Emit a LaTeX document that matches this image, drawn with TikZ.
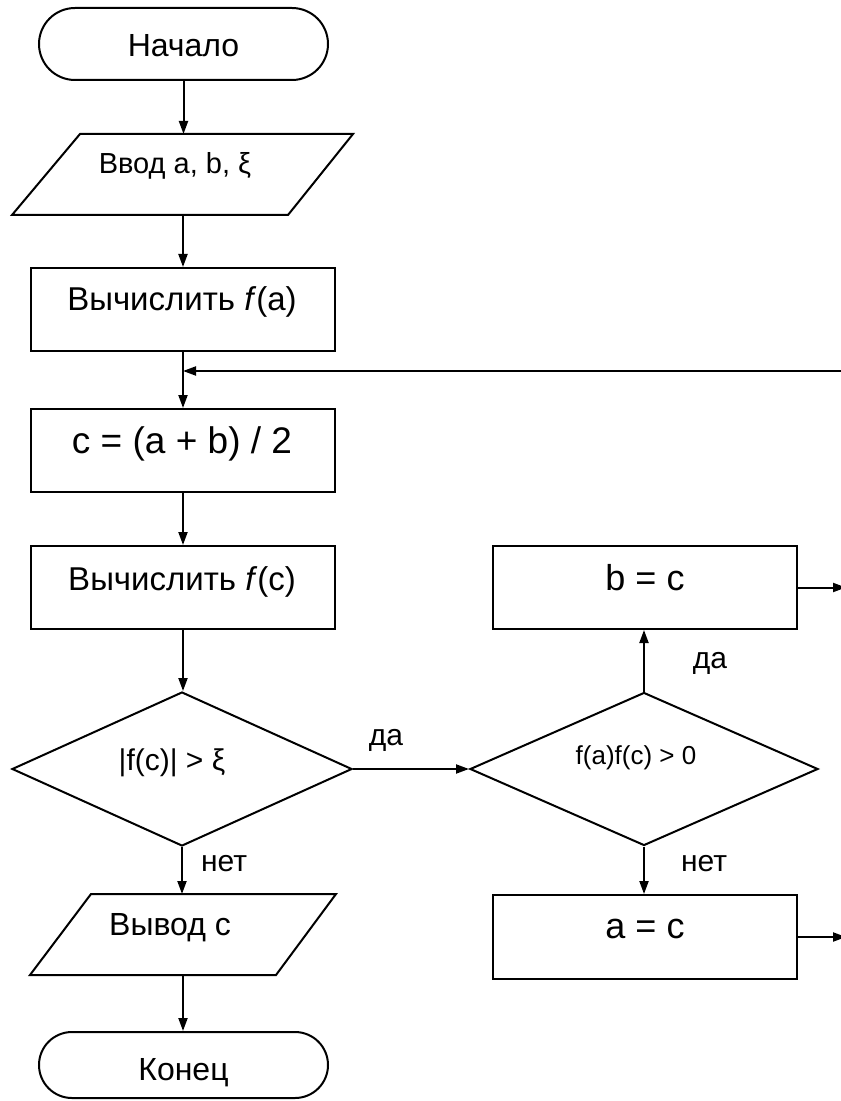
\documentclass[tikz,border=0pt]{standalone}
\usepackage{fontspec}
\setmainfont{Liberation Sans}
\usetikzlibrary{arrows.meta,shapes.geometric,calc}
\begin{document}
\begin{tikzpicture}[x=0.5pt,y=-0.5pt,
  line width=1pt,
  arr/.style={-{Triangle[length=6.5pt,width=4.5pt]}},
  procbox/.style={draw, rectangle, minimum width=152pt, minimum height=41.5pt, inner sep=0},
  termbox/.style={draw, rectangle, rounded corners=18pt, minimum width=144.5pt, minimum height=36pt, inner sep=0},
  decbox/.style={draw, diamond, inner sep=0, minimum width=170pt, minimum height=77pt},
  iobox/.style={rectangle, inner sep=0},
  txt/.style={anchor=base, inner sep=0},
]
\useasboundingbox (0,0) rectangle (840,1101);

% shapes
\node[termbox] (start) at (183.5,44) {};
\node[iobox, minimum width=169.5pt, minimum height=39.5pt] (in) at (182.5,174.5) {};
\draw (in.south west) -- ($(in.north west)+(68,0)$) -- (in.north east) -- ($(in.south east)+(-65,0)$) -- cycle;
\node[procbox] (fa) at (183,309.5) {};
\node[procbox] (cbox) at (183,450.5) {};
\node[procbox] (fc) at (183,587.5) {};
\node[decbox] (d1) at (182,769) {};
\node[decbox, minimum width=174pt, minimum height=76.5pt] (d2) at (644,769) {};
\node[procbox] (bc) at (645,587.5) {};
\node[procbox, minimum height=42pt] (ac) at (644.5,937) {};
\node[iobox, minimum width=152pt, minimum height=39.5pt] (out) at (183,934.5) {};
\draw (out.south west) -- ($(out.north west)+(61,0)$) -- (out.north east) -- ($(out.south east)+(-60,0)$) -- cycle;
\node[termbox, rounded corners=16.5pt, minimum height=33pt] (end) at (183.5,1065) {};

% texts
\node[txt, font=\fontsize{16pt}{18pt}\selectfont] (t1) at (183.5,57) {Начало};
\node[txt, font=\fontsize{14.5pt}{16pt}\selectfont] (t2) at (175,174) {Ввод a, b, ξ};
\node[txt, font=\fontsize{16.5pt}{18pt}\selectfont] (t3) at (182,311) {Вычислить \textit{f}(a)};
\node[txt, font=\fontsize{18.5pt}{20pt}\selectfont] (t4) at (182,453) {c = (a + b) / 2};
\node[txt, font=\fontsize{16.5pt}{18pt}\selectfont] (t5) at (182,590) {Вычислить \textit{f}(c)};
\node[txt, font=\fontsize{15pt}{17pt}\selectfont] (t6) at (172,770) {|f(c)| > ξ};
\node[txt, font=\fontsize{13pt}{15pt}\selectfont] (t7) at (636,764) {f(a)f(c) > 0};
\node[txt, font=\fontsize{18pt}{20pt}\selectfont] (t8) at (645,590) {b = c};
\node[txt, font=\fontsize{18pt}{20pt}\selectfont] (t9) at (645,938) {a = c};
\node[txt, font=\fontsize{16pt}{18pt}\selectfont] (t10) at (170,935) {Вывод с};
\node[txt, font=\fontsize{16pt}{18pt}\selectfont] (t11) at (183.5,1080) {Конец};
\node[txt, font=\fontsize{15pt}{17pt}\selectfont] (l1) at (386,745) {да};
\node[txt, font=\fontsize{15pt}{17pt}\selectfont] (l2) at (710,668) {да};
\node[txt, font=\fontsize{15pt}{17pt}\selectfont] (l3) at (224,871) {нет};
\node[txt, font=\fontsize{15pt}{17pt}\selectfont] (l4) at (704,871) {нет};

% connectors
\coordinate (join) at (183,371);
\coordinate (loopR) at (850,371);
\coordinate (bcR) at (846,587.5);
\coordinate (acR) at (846,937);

\draw[arr] (start.south) -- (start.south |- in.north);
\draw[arr] (fa.north |- in.south) -- (fa.north);
\draw[arr] (fa.south) -- (cbox.north);
\draw[arr] (loopR) -- (join);
\draw[arr] (cbox.south) -- (fc.north);
\draw[arr] (fc.south) -- (fc.south |- d1.north);
\draw[arr] (d1.east) -- (d2.west);
\draw[arr] (d2.north) -- (d2.north |- bc.south);
\draw[arr] (d2.south) -- (d2.south |- ac.north);
\draw[arr] (d1.south) -- (d1.south |- out.north);
\draw[arr] (out.south) -- (out.south |- end.north);
\draw[arr] (bc.east) -- (bcR);
\draw[arr] (ac.east) -- (acR);
\end{tikzpicture}
\end{document}
